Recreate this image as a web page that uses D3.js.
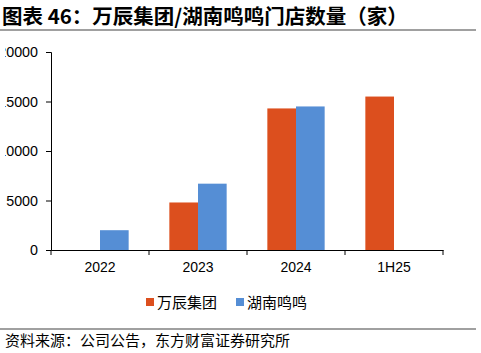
<!DOCTYPE html>
<html>
<head>
  <meta charset="utf-8">
  <script src="https://d3js.org/d3.v7.min.js"></script>
  <style>
    body { margin: 0; background: #fff; }
    svg { display: block; font-family: "Liberation Sans", Arial, sans-serif; }
    .cjk { font-family: "Noto Sans CJK SC", sans-serif; }
  </style>
</head>
<body>
  <div id="chart"></div>
  <script>
    // data
    const categories = ["2022", "2023", "2024", "1H25"];
    const seriesNames = ["万辰集团", "湖南鸣鸣"];
    const wanchen = [null, 4800, 14300, 15500];
    const mingming = [2000, 6700, 14500, null];
    const yTicks = [0, 5000, 10000, 15000, 20000];
    const colors = ["#dc4f1e", "#558ed5"];

    const width = 481, height = 353;
    const margin = { top: 52, right: 38, bottom: 103, left: 51 };

    const svg = d3.select("#chart").append("svg")
      .attr("width", width)
      .attr("height", height);

    // the source chart box starts a few px in, so wide y labels get clipped there
    svg.append("clipPath").attr("id", "frame")
      .append("rect").attr("x", 5).attr("y", 0).attr("width", width).attr("height", height);

    // title + rules
    svg.append("text")
      .attr("class", "cjk")
      .attr("x", 2).attr("y", 24)
      .style("font-size", "20.5px").style("font-weight", "bold")
      .attr("fill", "#000")
      .text("图表 46：万辰集团/湖南鸣鸣门店数量（家）");
    svg.append("line")
      .attr("x1", 0).attr("x2", 476).attr("y1", 30).attr("y2", 30)
      .attr("stroke", "#808080").attr("stroke-width", 1.5);
    svg.append("line")
      .attr("x1", 0).attr("x2", 476).attr("y1", 329).attr("y2", 329)
      .attr("stroke", "#808080").attr("stroke-width", 1.5);
    svg.append("text")
      .attr("class", "cjk")
      .attr("x", 5).attr("y", 346)
      .style("font-size", "15px")
      .attr("fill", "#000")
      .text("资料来源：公司公告，东方财富证券研究所");

    const x0 = d3.scaleBand()
      .domain(categories)
      .range([margin.left, width - margin.right]);
    const x1 = d3.scaleBand()
      .domain(seriesNames)
      .range([0, x0.bandwidth()])
      .paddingOuter(0.71).paddingInner(0);
    const y = d3.scaleLinear()
      .domain([0, 20000])
      .range([height - margin.bottom, margin.top]);

    const rows = categories.map((c, i) => ({ cat: c, vals: [wanchen[i], mingming[i]] }));

    const g = svg.append("g");
    g.selectAll("g.cat")
      .data(rows)
      .join("g")
      .attr("class", "cat")
      .attr("transform", d => `translate(${x0(d.cat)},0)`)
      .selectAll("rect")
      .data(d => d.vals.map((v, j) => ({ name: seriesNames[j], v: v, j: j })).filter(e => e.v != null))
      .join("rect")
      .attr("x", d => x1(d.name))
      .attr("width", x1.bandwidth())
      .attr("y", d => y(d.v))
      .attr("height", d => y(0) - y(d.v))
      .attr("fill", d => colors[d.j]);

    // y axis
    const yWrap = svg.append("g").attr("clip-path", "url(#frame)");
    const yAxis = yWrap.append("g")
      .attr("transform", `translate(${margin.left},0)`)
      .call(d3.axisLeft(y).tickValues(yTicks).tickSize(5).tickPadding(8).tickFormat(d3.format("d")));
    yAxis.select(".domain").attr("stroke", "#000");
    yAxis.selectAll("line").attr("stroke", "#000");
    yAxis.selectAll("text").style("font-size", "14.3px").attr("fill", "#000");

    // x axis
    const xAxis = svg.append("g")
      .attr("transform", `translate(0,${y(0)})`)
      .call(d3.axisBottom(x0).tickSize(0).tickPadding(12));
    xAxis.select(".domain").attr("stroke", "#000");
    xAxis.selectAll("text").style("font-size", "14px").attr("fill", "#000");
    // category boundary ticks
    xAxis.selectAll("line.sep")
      .data(categories.concat(["end"]))
      .join("line")
      .attr("class", "sep")
      .attr("x1", (d, i) => i < categories.length ? x0(d) : x0.range()[1])
      .attr("x2", (d, i) => i < categories.length ? x0(d) : x0.range()[1])
      .attr("y1", 0).attr("y2", 5)
      .attr("stroke", "#000");

    // legend
    const legend = svg.append("g").attr("transform", "translate(146,302)");
    const items = legend.selectAll("g")
      .data(seriesNames)
      .join("g")
      .attr("transform", (d, i) => `translate(${i * 90},0)`);
    items.append("rect")
      .attr("x", 0).attr("y", -4).attr("width", 8).attr("height", 8)
      .attr("fill", (d, i) => colors[i]);
    items.append("text")
      .attr("class", "cjk")
      .attr("x", 11).attr("y", 5.5)
      .style("font-size", "15px")
      .attr("fill", "#000")
      .text(d => d);
  </script>
</body>
</html>
